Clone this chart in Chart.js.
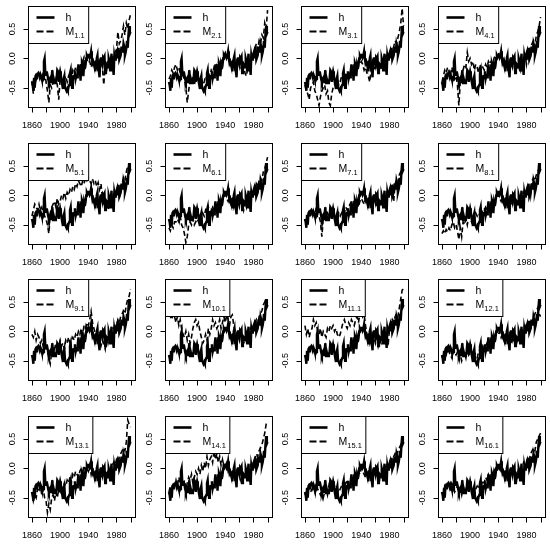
<!DOCTYPE html>
<html><head><meta charset="utf-8">
<script src="https://cdn.jsdelivr.net/npm/chart.js@4.4.0/dist/chart.umd.min.js"></script>
<style>
html,body{margin:0;padding:0;background:#fff;}
#wrap{position:relative;width:550px;height:544px;overflow:hidden;background:#fff;}
canvas{position:absolute;}
</style></head><body><div id="wrap"></div>
<script>
// ---- data ----
const years = Array.from({length:141}, (_, i) => 1860 + i);      // annual, observed series
const yearsM = Array.from({length:71}, (_, i) => 1860 + 2 * i);  // model series sampled every 2 years
const xTicks = [1860,1880,1900,1920,1940,1960,1980,2000];
const xLabels = [1860,1900,1940,1980];
const yTicks = [-0.5,0.0,0.5];
const yTickLabels = ['-0.5','0.0','0.5'];
const modelNames = ['1.1','2.1','3.1','4.1','5.1','6.1','7.1','8.1','9.1','10.1','11.1','12.1','13.1','14.1','15.1','16.1'];

const h = [
-0.40,-0.45,-0.55,-0.33,-0.50,-0.30,-0.28,-0.30,-0.27,-0.25,
-0.28,-0.32,-0.27,-0.30,-0.35,-0.38,-0.35,-0.05,0.00,-0.25,
-0.28,-0.22,-0.28,-0.35,-0.40,-0.35,-0.33,-0.42,-0.30,-0.20,
-0.42,-0.35,-0.40,-0.42,-0.38,-0.35,-0.20,-0.22,-0.40,-0.28,
-0.22,-0.28,-0.38,-0.45,-0.52,-0.35,-0.30,-0.50,-0.52,-0.55,
-0.52,-0.55,-0.48,-0.45,-0.25,-0.20,-0.40,-0.50,-0.38,-0.30,
-0.30,-0.22,-0.35,-0.30,-0.32,-0.22,-0.10,-0.22,-0.20,-0.38,
-0.12,-0.08,-0.12,-0.30,-0.12,-0.18,-0.12,0.00,0.05,0.02,
0.05,0.08,0.02,0.05,0.12,0.00,-0.08,-0.05,-0.10,-0.10,
-0.22,-0.05,0.00,0.05,-0.20,-0.22,-0.32,-0.02,0.02,-0.05,
-0.10,0.02,0.00,0.03,-0.25,-0.20,-0.10,-0.12,-0.15,0.00,
-0.05,-0.20,-0.05,0.08,-0.20,-0.15,-0.28,0.05,-0.02,0.05,
0.08,0.12,0.00,0.18,-0.02,-0.02,0.05,0.18,0.18,0.10,
0.25,0.20,0.05,0.10,0.18,0.30,0.18,0.40,0.55,0.42,
0.45];

const M1 = [
-0.38,-0.60,-0.45,-0.35,-0.30, -0.28,-0.35,-0.30,-0.25,-0.20,
-0.40,-0.55,-0.75,-0.45,-0.50, -0.40,-0.45,-0.35,-0.45,-0.70,
-0.35,-0.40,-0.45,-0.35,-0.30, -0.40,-0.30,-0.25,-0.35,-0.20,
-0.25,-0.15,-0.20,-0.10,-0.15, -0.08,-0.05,0.02,-0.10,0.00,
-0.08,-0.05,-0.15,-0.05,-0.10, -0.20,-0.15,-0.05,-0.10,-0.05,
-0.15,-0.45,-0.10,-0.20,-0.05, -0.05,-0.15,0.00,0.05,0.10,
0.15,0.45,0.25,0.30,0.40, 0.55,0.40,0.60,0.50,0.65,
0.75];
const M2 = [
-0.35,-0.30,-0.20,-0.25,-0.15, -0.10,-0.20,-0.15,-0.25,-0.10,
-0.30,-0.35,-0.50,-0.75,-0.55, -0.35,-0.40,-0.30,-0.45,-0.35,
-0.30,-0.40,-0.35,-0.30,-0.45, -0.40,-0.30,-0.35,-0.25,-0.30,
-0.20,-0.25,-0.15,-0.20,-0.10, -0.05,-0.15,0.00,-0.05,0.05,
0.10,0.00,0.05,-0.05,-0.10, -0.05,-0.15,-0.10,-0.20,-0.10,
-0.05,-0.15,-0.20,-0.10,-0.25, -0.30,-0.15,-0.05,0.00,0.10,
0.05,0.15,0.25,0.15,0.30, 0.25,0.40,0.35,0.60,0.50,
0.82];
const M3 = [
-0.45,-0.55,-0.60,-0.70,-0.50, -0.45,-0.40,-0.55,-0.60,-0.70,
-0.80,-0.65,-0.55,-0.50,-0.45, -0.60,-0.55,-0.75,-0.80,-0.60,
-0.50,-0.45,-0.40,-0.35,-0.45, -0.40,-0.30,-0.35,-0.25,-0.30,
-0.25,-0.30,-0.20,-0.25,-0.15, -0.20,-0.10,-0.15,-0.05,-0.10,
-0.05,-0.10,-0.20,-0.15,-0.25, -0.30,-0.40,-0.20,-0.25,-0.15,
-0.20,-0.10,-0.25,-0.15,-0.20, -0.10,-0.15,0.00,0.05,0.10,
0.05,0.15,0.10,0.20,0.30, 0.25,0.35,0.45,0.60,0.85,
0.55];
const M4 = [
-0.40,-0.30,-0.20,-0.25,-0.15, -0.20,-0.30,-0.15,-0.25,-0.35,
-0.30,-0.45,-0.80,-0.40,-0.30, -0.20,-0.10,-0.15,0.10,-0.05,
0.00,-0.10,-0.05,-0.20,-0.10, -0.15,-0.25,-0.10,-0.20,-0.15,
-0.20,-0.10,-0.15,-0.05,-0.10, -0.05,-0.10,0.00,0.05,0.00,
0.10,0.05,0.08,-0.05,0.00, -0.10,-0.05,-0.15,-0.05,-0.10,
-0.15,-0.05,-0.20,-0.10,-0.15, -0.05,-0.20,-0.10,0.00,0.05,
-0.10,0.10,0.15,0.20,0.25, 0.30,0.20,0.40,0.45,0.55,
0.70];
const M5 = [
-0.35,-0.25,-0.15,-0.20,-0.25, -0.15,-0.25,-0.20,-0.30,-0.35,
-0.40,-0.50,-0.65,-0.30,-0.20, -0.15,-0.10,-0.20,-0.05,-0.15,
-0.10,0.00,-0.05,0.05,-0.05, 0.05,0.00,0.10,0.05,0.15,
0.10,0.20,0.15,0.25,0.20, 0.15,0.25,0.20,0.30,0.25,
0.30,0.25,0.20,0.28,0.20, 0.25,0.15,0.22,0.10,0.20,
-0.05,-0.15,-0.20,-0.10,-0.25, -0.15,-0.10,-0.20,0.00,-0.05,
0.05,0.10,-0.05,0.15,0.20, 0.30,0.25,0.40,0.50,0.45,
0.48];
const M6 = [
-0.55,-0.60,-0.50,-0.55,-0.45, -0.45,-0.40,-0.45,-0.35,-0.50,
-0.55,-0.65,-0.80,-0.70,-0.50, -0.45,-0.50,-0.40,-0.50,-0.45,
-0.40,-0.45,-0.35,-0.40,-0.30, -0.35,-0.25,-0.30,-0.20,-0.30,
-0.25,-0.20,-0.25,-0.15,-0.20, -0.15,-0.20,-0.10,-0.05,0.00,
0.02,-0.05,-0.10,-0.05,-0.15, -0.10,-0.20,-0.05,-0.15,-0.10,
-0.20,-0.10,-0.15,-0.25,-0.10, -0.20,-0.05,0.00,0.05,0.10,
0.10,0.05,0.20,0.15,0.25, 0.30,0.25,0.40,0.45,0.55,
0.65];
const M7 = [
-0.40,-0.45,-0.35,-0.30,-0.35, -0.25,-0.30,-0.35,-0.20,-0.30,
-0.35,-0.45,-0.70,-0.40,-0.35, -0.40,-0.30,-0.35,-0.25,-0.35,
-0.30,-0.40,-0.35,-0.45,-0.30, -0.35,-0.30,-0.25,-0.30,-0.20,
-0.25,-0.20,-0.15,-0.25,-0.15, -0.10,-0.20,-0.15,-0.20,-0.10,
-0.05,-0.10,-0.15,-0.05,-0.10, -0.15,-0.10,-0.05,-0.15,-0.05,
-0.10,-0.20,-0.05,-0.15,-0.10, -0.05,0.00,-0.15,0.05,0.10,
0.05,0.10,0.15,-0.10,0.20, 0.25,0.20,0.35,0.40,0.45,
0.48];
const M8 = [
-0.65,-0.60,-0.65,-0.58,-0.62, -0.55,-0.60,-0.50,-0.45,-0.55,
-0.50,-0.60,-0.75,-0.55,-0.70, -0.45,-0.50,-0.40,-0.50,-0.35,
-0.40,-0.45,-0.35,-0.40,-0.30, -0.35,-0.30,-0.35,-0.25,-0.30,
-0.25,-0.20,-0.25,-0.15,-0.20, -0.15,-0.10,-0.15,-0.05,0.00,
0.00,-0.05,-0.10,-0.05,-0.15, -0.10,-0.15,-0.05,-0.20,-0.10,
-0.15,-0.10,-0.20,-0.10,-0.15, -0.10,-0.05,0.00,0.05,0.10,
0.10,0.15,0.20,0.00,0.25, 0.30,0.25,0.35,0.40,0.45,
0.50];
const M9 = [
-0.05,-0.10,0.00,-0.15,-0.05, -0.10,-0.20,-0.15,-0.25,-0.20,
-0.30,-0.35,-0.45,-0.55,-0.35, -0.25,-0.30,-0.20,-0.35,-0.25,
-0.15,-0.25,-0.20,-0.30,-0.15, -0.20,-0.10,-0.20,-0.15,-0.10,
-0.15,-0.05,-0.10,0.00,-0.05, 0.05,-0.05,0.10,0.05,0.15,
0.10,0.20,0.34,0.15,0.05, -0.05,-0.15,-0.10,-0.20,-0.25,
-0.15,-0.20,-0.30,-0.10,-0.20, -0.10,-0.15,0.00,0.05,0.10,
0.10,0.20,0.15,0.25,0.30, 0.35,0.30,0.45,0.55,0.60,
0.72];
const M10 = [
0.30,0.25,0.20,0.30,0.25, 0.15,0.25,0.10,0.20,0.05,
-0.05,-0.10,0.00,-0.15,-0.05, -0.20,-0.10,0.05,0.15,0.20,
0.10,0.15,0.00,-0.10,-0.20, -0.15,-0.05,-0.15,0.05,-0.05,
0.05,0.20,0.10,0.15,0.05, 0.10,0.20,0.05,0.15,0.25,
0.15,0.28,0.20,0.10,0.25, 0.28,0.10,0.00,-0.10,-0.05,
-0.15,-0.05,-0.10,-0.20,-0.15, -0.05,-0.10,0.00,0.05,0.10,
0.10,0.15,0.20,0.10,0.25, 0.30,0.35,0.45,0.50,0.40,
0.45];
const M11 = [
0.10,-0.05,0.05,-0.10,0.00, 0.05,0.20,0.10,0.15,0.00,
-0.05,0.05,-0.10,0.00,-0.05, -0.10,0.05,0.00,0.10,0.05,
0.10,0.00,0.05,-0.05,-0.10, -0.05,0.05,0.15,0.20,0.10,
0.05,0.15,0.10,0.20,0.15, 0.10,0.20,0.25,0.15,0.30,
0.35,0.25,0.30,0.10,-0.05, -0.10,-0.20,-0.05,-0.15,-0.10,
-0.20,-0.10,-0.25,-0.15,-0.20, -0.10,-0.15,-0.05,0.00,-0.25,
0.05,0.10,0.20,0.15,0.25, 0.30,0.25,0.40,0.55,0.70,
0.72];
const M12 = [
-0.45,-0.40,-0.35,-0.40,-0.30, -0.35,-0.40,-0.45,-0.30,-0.35,
-0.40,-0.35,-0.45,-0.40,-0.50, -0.40,-0.35,-0.45,-0.30,-0.40,
-0.35,-0.40,-0.45,-0.35,-0.40, -0.45,-0.35,-0.30,-0.35,-0.25,
-0.30,-0.25,-0.20,-0.25,-0.15, -0.20,-0.10,-0.15,-0.05,0.00,
-0.05,0.00,-0.10,-0.05,-0.15, -0.10,-0.05,-0.15,-0.10,-0.20,
-0.10,-0.15,-0.05,-0.20,-0.10, -0.05,-0.10,0.00,0.05,0.10,
0.05,0.10,0.15,0.20,0.15, 0.25,0.30,0.35,0.40,0.30,
0.25];
const M13 = [
-0.40,-0.55,-0.45,-0.50,-0.35, -0.40,-0.30,-0.45,-0.35,-0.50,
-0.55,-0.75,-0.60,-0.70,-0.50, -0.45,-0.55,-0.40,-0.50,-0.35,
-0.40,-0.30,-0.35,-0.25,-0.30, -0.20,-0.25,-0.15,-0.25,-0.10,
-0.15,-0.05,-0.10,-0.15,-0.05, 0.00,-0.05,0.05,-0.05,0.00,
-0.05,0.05,-0.10,0.00,-0.10, -0.15,-0.05,-0.10,-0.20,-0.10,
-0.15,-0.05,-0.20,-0.10,-0.05, -0.10,0.00,0.05,0.10,0.05,
0.15,0.10,0.20,0.25,0.30, 0.35,0.30,0.45,0.82,0.75,
0.70];
const M14 = [
-0.40,-0.30,-0.35,-0.25,-0.30, -0.20,-0.30,-0.15,-0.25,-0.20,
-0.30,-0.20,-0.35,-0.25,-0.15, -0.20,-0.10,-0.25,-0.15,-0.05,
-0.10,0.00,-0.10,0.05,-0.05, 0.10,0.00,0.20,0.05,0.15,
0.20,0.10,0.30,0.15,0.25, 0.10,0.20,0.05,0.15,0.00,
0.05,0.10,-0.05,0.00,-0.10, -0.05,-0.15,-0.10,-0.20,-0.05,
-0.10,-0.20,-0.05,-0.15,-0.10, -0.05,0.00,-0.10,0.05,0.10,
0.10,0.15,0.25,0.20,0.30, 0.35,0.40,0.50,0.60,0.75,
0.80];
const M15 = [
-0.45,-0.40,-0.35,-0.30,-0.40, -0.35,-0.30,-0.40,-0.25,-0.35,
-0.40,-0.45,-0.35,-0.50,-0.40, -0.35,-0.45,-0.30,-0.40,-0.35,
-0.40,-0.30,-0.45,-0.35,-0.40, -0.35,-0.30,-0.25,-0.35,-0.20,
-0.25,-0.20,-0.25,-0.15,-0.20, -0.15,-0.10,-0.15,-0.05,-0.10,
0.00,-0.05,-0.10,-0.15,-0.10, -0.15,-0.05,-0.10,-0.20,-0.10,
-0.10,-0.15,-0.05,-0.20,-0.10, -0.05,-0.10,0.00,0.05,0.10,
0.05,0.15,0.10,0.20,0.25, 0.20,0.30,0.35,0.40,0.45,
0.50];
const M16 = [
-0.40,-0.45,-0.30,-0.35,-0.25, -0.30,-0.35,-0.25,-0.30,-0.40,
-0.35,-0.30,-0.40,-0.35,-0.45, -0.30,-0.40,-0.35,-0.25,-0.35,
-0.30,-0.40,-0.35,-0.45,-0.35, -0.30,-0.35,-0.25,-0.30,-0.20,
-0.25,-0.15,-0.20,-0.10,-0.15, -0.10,-0.15,-0.05,0.00,-0.05,
0.00,0.05,-0.05,-0.10,-0.05, -0.10,-0.15,-0.05,-0.20,-0.10,
-0.05,-0.15,-0.10,-0.20,-0.05, -0.10,0.00,0.05,0.10,0.05,
0.10,0.20,0.15,0.25,0.30, 0.35,0.30,0.45,0.50,0.55,
0.60];
const models = [M1,M2,M3,M4,M5,M6,M7,M8,M9,M10,M11,M12,M13,M14,M15,M16];

// ---- layout ----
const X_MIN = 1854.4, X_MAX = 2005.6, Y_MIN = -0.825, Y_MAX = 0.89;
const colBoxLeft = [28, 164.5, 301, 437.5];
const rowBoxTop = [6, 142.5, 279, 415.5];
const BOX_W = 106.5, BOX_H = 101;
const CW = 138, CH = 136, PADL = 28, PADT = 6;
const FONT = '"Liberation Sans", Arial, Helvetica, sans-serif';

const frame = {
  id: 'frame',
  afterDatasetsDraw(chart) {
    const {ctx, chartArea: a, scales: {x, y}} = chart;
    const name = chart.options.plugins.frame.name;
    ctx.save();
    ctx.strokeStyle = '#000';
    ctx.fillStyle = '#000';
    ctx.lineWidth = 1;
    ctx.setLineDash([]);
    const L = Math.round(a.left) + 0.5, T = Math.round(a.top) + 0.5;
    const R = Math.round(a.right) + 0.5, B = Math.round(a.bottom) + 0.5;
    ctx.strokeRect(L, T, R - L, B - T);
    // x axis
    ctx.beginPath();
    const xs = xTicks.map(t => Math.round(x.getPixelForValue(t)) + 0.5);
    ctx.moveTo(xs[0], B); ctx.lineTo(xs[xs.length - 1], B);
    xs.forEach(px => { ctx.moveTo(px, B); ctx.lineTo(px, B + 5); });
    // y axis
    const ys = yTicks.map(v => Math.round(y.getPixelForValue(v)) + 0.5);
    ctx.moveTo(L, ys[0]); ctx.lineTo(L, ys[ys.length - 1]);
    ys.forEach(py => { ctx.moveTo(L, py); ctx.lineTo(L - 5, py); });
    ctx.stroke();
    ctx.font = '9px ' + FONT;
    ctx.textAlign = 'center';
    ctx.textBaseline = 'middle';
    xLabels.forEach(t => ctx.fillText(String(t), x.getPixelForValue(t), a.bottom + 19));
    yTicks.forEach((v, i) => {
      ctx.save();
      ctx.translate(a.left - 15.5, y.getPixelForValue(v));
      ctx.rotate(-Math.PI / 2);
      ctx.fillText(yTickLabels[i], 0, 0);
      ctx.restore();
    });
    // legend
    ctx.font = '10.5px ' + FONT;
    const mW = ctx.measureText('M').width;
    ctx.font = '7.5px ' + FONT;
    const sW = ctx.measureText(name).width;
    const lw = 37 + mW + sW + 4;
    const lh = 37;
    ctx.fillStyle = '#fff';
    ctx.fillRect(L, T, lw, lh);
    ctx.strokeRect(L, T, lw, lh);
    ctx.strokeStyle = '#000';
    ctx.lineWidth = 2.6;
    ctx.beginPath(); ctx.moveTo(L + 8, T + 11); ctx.lineTo(L + 26, T + 11); ctx.stroke();
    ctx.lineWidth = 2;
    ctx.setLineDash([7, 3]);
    ctx.beginPath(); ctx.moveTo(L + 8, T + 25); ctx.lineTo(L + 27, T + 25); ctx.stroke();
    ctx.setLineDash([]);
    ctx.fillStyle = '#000';
    ctx.textAlign = 'left';
    ctx.textBaseline = 'alphabetic';
    ctx.font = '10.5px ' + FONT;
    ctx.fillText('h', L + 37, T + 14.5);
    ctx.fillText('M', L + 37, T + 28.5);
    ctx.font = '7.5px ' + FONT;
    ctx.fillText(name, L + 37 + mW, T + 31);
    ctx.restore();
  }
};

const wrap = document.getElementById('wrap');
for (let k = 0; k < 16; k++) {
  const r = Math.floor(k / 4), c = k % 4;
  const cv = document.createElement('canvas');
  cv.width = CW; cv.height = CH;
  cv.style.left = (colBoxLeft[c] - PADL) + 'px';
  cv.style.top = (rowBoxTop[r] - PADT) + 'px';
  cv.style.width = CW + 'px'; cv.style.height = CH + 'px';
  wrap.appendChild(cv);
  new Chart(cv, {
    type: 'line',
    data: {
      datasets: [
        { data: models[k].map((v, i) => ({x: yearsM[i], y: v})), borderColor: '#000', borderWidth: 1.6, borderDash: [5, 3], pointRadius: 0, tension: 0, fill: false },
        { data: h.map((v, i) => ({x: years[i], y: v})), borderColor: '#000', borderWidth: 2.4, pointRadius: 0, tension: 0, fill: false }
      ]
    },
    options: {
      responsive: false, animation: false, devicePixelRatio: 1,
      layout: { padding: { left: PADL, top: PADT, right: CW - PADL - BOX_W, bottom: CH - PADT - BOX_H } },
      scales: {
        x: { type: 'linear', min: X_MIN, max: X_MAX, display: false },
        y: { type: 'linear', min: Y_MIN, max: Y_MAX, display: false }
      },
      plugins: { legend: { display: false }, tooltip: { enabled: false }, frame: { name: modelNames[k] } },
      events: []
    },
    plugins: [frame]
  });
}
</script></body></html>
